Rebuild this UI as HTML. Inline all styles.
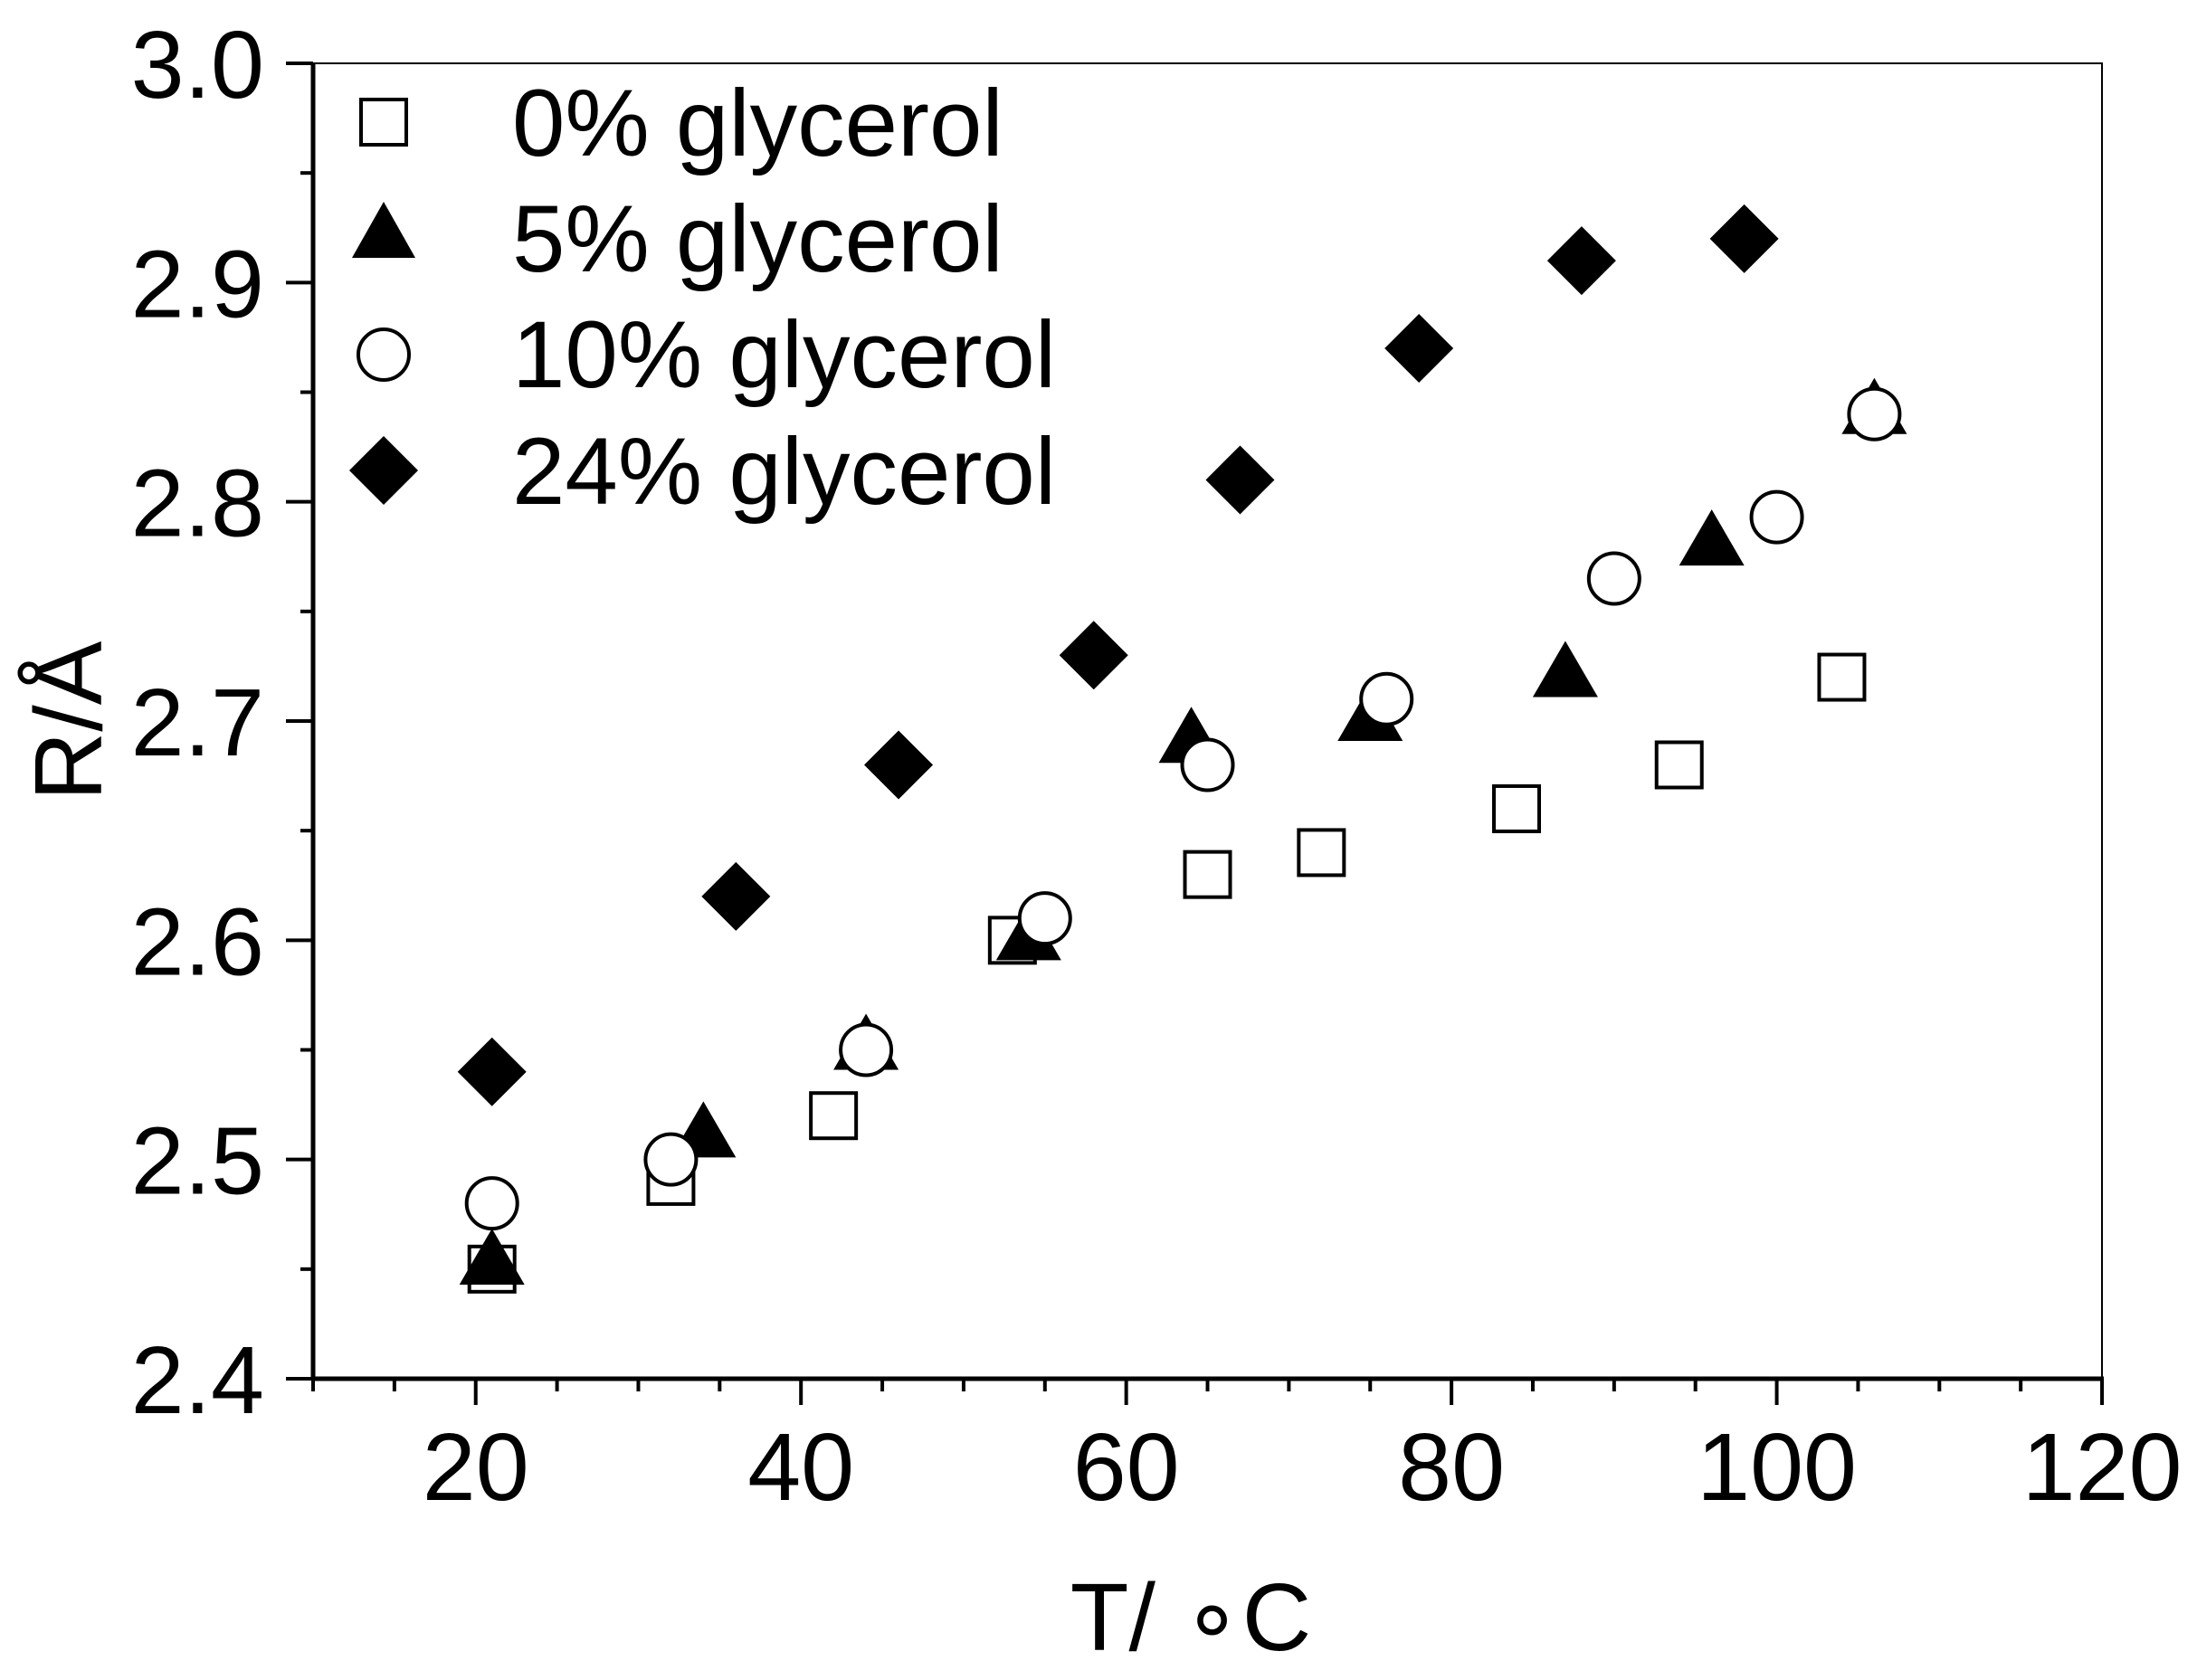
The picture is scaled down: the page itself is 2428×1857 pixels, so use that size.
<!DOCTYPE html>
<html><head><meta charset="utf-8"><style>html,body{margin:0;padding:0;background:#fff}</style></head>
<body>
<svg width="2428" height="1852" viewBox="0 0 2428 1852" xmlns="http://www.w3.org/2000/svg" font-family="Liberation Sans, Arial, sans-serif">
<rect width="2428" height="1852" fill="#fff"/>
<g id="plot"></g>
<rect x="346" y="70" width="1977" height="1454" fill="none" stroke="#000" stroke-width="2"/>
<line x1="346" y1="70" x2="346" y2="1526" stroke="#000" stroke-width="5"/>
<line x1="344" y1="1524" x2="2325" y2="1524" stroke="#000" stroke-width="5"/>
<g id="ticks" stroke="#000" stroke-width="4"></g>
<g id="labels" font-size="106" fill="#000"></g>
<text transform="translate(112,797) rotate(-90)" font-size="106" text-anchor="middle">R/Å</text>
<text x="1316" y="1824" font-size="106" text-anchor="middle">T/ ∘C</text>
<g font-size="105">
<rect x="399" y="110" width="50" height="50" fill="#fff" stroke="#000" stroke-width="4"/>
<text x="566" y="172">0% glycerol</text>
<polygon points="424,223 459,285 389,285" fill="#000"/>
<text x="566" y="300">5% glycerol</text>
<circle cx="424" cy="392" r="28" fill="#fff" stroke="#000" stroke-width="4"/>
<text x="566" y="428">10% glycerol</text>
<polygon points="424,482 462,520 424,558 386,520" fill="#000"/>
<text x="566" y="557">24% glycerol</text>
</g>
<script>
var X=t=>346+(t-10)*17.973, Y=v=>1524-(v-2.4)*2423.3;
var ns="http://www.w3.org/2000/svg";
function el(p,n,a,txt){var e=document.createElementNS(ns,n);for(var k in a)e.setAttribute(k,a[k]);if(txt)e.textContent=txt;document.getElementById(p).appendChild(e);}
for(var t=10;t<=120;t+=5){var maj=t%20==0;el("ticks","line",{x1:X(t),x2:X(t),y1:1524,y2:1524+(maj?29:14)});if(maj)el("labels","text",{x:X(t),y:1658,"text-anchor":"middle"},""+t);}
for(var i=0;i<=12;i++){var v=2.4+i*0.05,maj=i%2==0;el("ticks","line",{x1:346-(maj?30:14),x2:346,y1:Y(v),y2:Y(v)});if(maj)el("labels","text",{x:292,y:Y(v)+38,"text-anchor":"end"},v.toFixed(1));}
var s0=[[21,2.45],[32,2.49],[42,2.52],[53,2.60],[65,2.63],[72,2.64],[84,2.66],[94,2.68],[104,2.72]];
var s5=[[21,2.452],[34,2.51],[44,2.55],[54,2.60],[64,2.69],[75,2.70],[87,2.72],[96,2.78],[106,2.84]];
var s10=[[21,2.48],[32,2.50],[44,2.55],[55,2.61],[65,2.68],[76,2.71],[90,2.765],[100,2.793],[106,2.84]];
var s24=[[21,2.54],[36,2.62],[46,2.68],[58,2.73],[67,2.81],[78,2.87],[88,2.91],[98,2.92]];
s0.forEach(p=>el("plot","rect",{x:X(p[0])-25,y:Y(p[1])-25,width:50,height:50,fill:"#fff",stroke:"#000","stroke-width":4}));
s5.forEach(p=>{var x=X(p[0]),y=Y(p[1]);el("plot","polygon",{points:(x)+","+(y-40)+" "+(x+36)+","+(y+22)+" "+(x-36)+","+(y+22),fill:"#000"});});
s10.forEach(p=>el("plot","circle",{cx:X(p[0]),cy:Y(p[1]),r:28,fill:"#fff",stroke:"#000","stroke-width":4}));
s24.forEach(p=>{var x=X(p[0]),y=Y(p[1]);el("plot","polygon",{points:x+","+(y-38)+" "+(x+38)+","+y+" "+x+","+(y+38)+" "+(x-38)+","+y,fill:"#000"});});
</script>
</svg>
</body></html>
